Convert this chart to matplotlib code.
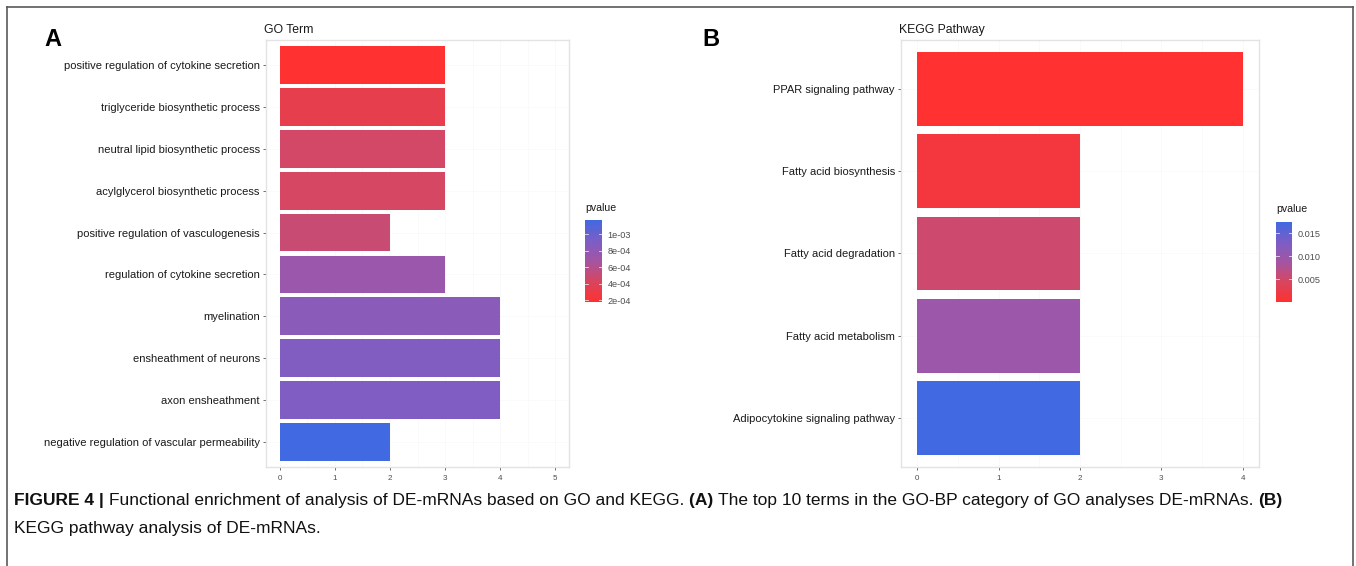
import matplotlib
matplotlib.use("Agg")
import matplotlib.pyplot as plt
from matplotlib.colors import LinearSegmentedColormap, Normalize
from matplotlib.lines import Line2D
import numpy as np

# ---------------- data ----------------
go_terms = [
    "positive regulation of cytokine secretion",
    "triglyceride biosynthetic process",
    "neutral lipid biosynthetic process",
    "acylglycerol biosynthetic process",
    "positive regulation of vasculogenesis",
    "regulation of cytokine secretion",
    "myelination",
    "ensheathment of neurons",
    "axon ensheathment",
    "negative regulation of vascular permeability",
]
go_counts = [3, 3, 3, 3, 2, 3, 4, 4, 4, 2]
go_pvalues = [1.76e-4, 3.3e-4, 4.5e-4, 4.4e-4, 5.0e-4, 7.3e-4, 8.3e-4, 8.9e-4, 9.0e-4, 1.174e-3]
go_cbar_ticks = [2e-4, 4e-4, 6e-4, 8e-4, 1e-3]
go_cbar_labels = ["2e-04", "4e-04", "6e-04", "8e-04", "1e-03"]
go_xticks = [0, 1, 2, 3, 4, 5]

kegg_terms = [
    "PPAR signaling pathway",
    "Fatty acid biosynthesis",
    "Fatty acid degradation",
    "Fatty acid metabolism",
    "Adipocytokine signaling pathway",
]
kegg_counts = [4, 2, 2, 2, 2]
kegg_pvalues = [6e-5, 1.3e-3, 5.3e-3, 9.6e-3, 1.74e-2]
kegg_cbar_ticks = [0.005, 0.010, 0.015]
kegg_cbar_labels = ["0.005", "0.010", "0.015"]
kegg_xticks = [0, 1, 2, 3, 4]

caption_line1 = [
    ("FIGURE 4 | ", "bold"),
    ("Functional enrichment of analysis of DE-mRNAs based on GO and KEGG. ", "normal"),
    ("(A) ", "bold"),
    ("The top 10 terms in the GO-BP category of GO analyses DE-mRNAs. ", "normal"),
    ("(B)", "bold"),
]
caption_line2 = "KEGG pathway analysis of DE-mRNAs."

# ---------------- style ----------------
plt.rcParams['font.family'] = ['Liberation Sans', 'DejaVu Sans']
W, H = 1356, 566
fig = plt.figure(figsize=(W / 100, H / 100), dpi=100)

cmap = LinearSegmentedColormap.from_list(
    "rb", [(0.0, "#FF3131"), (0.25, "#D84660"), (0.5, "#A455A3"),
           (0.75, "#7C5EC6"), (1.0, "#4169E1")])


def px_axes(x0, y0, x1, y1):
    return fig.add_axes([x0 / W, 1 - y1 / H, (x1 - x0) / W, (y1 - y0) / H])


def enrich_panel(ax, terms, counts, pvals, xmax, xticks, title):
    n = len(terms)
    ypos = np.arange(n)[::-1]
    norm = Normalize(vmin=min(pvals), vmax=max(pvals))
    ax.barh(ypos, counts, height=0.9, color=[cmap(norm(p)) for p in pvals],
            edgecolor="none", zorder=3)
    ax.set_xlim(-0.05 * xmax, xmax * 1.05)
    ax.set_ylim(-0.6, n - 0.4)
    ax.set_yticks(ypos)
    ax.set_yticklabels(terms, fontsize=8.0, color="#1a1a1a")
    ax.set_xticks(xticks)
    ax.set_xticklabels([str(t) for t in xticks], fontsize=5.8, color="#4d4d4d")
    ax.tick_params(axis="both", length=2.5, width=0.6, color="#555555", pad=2)
    ax.tick_params(axis="x", pad=3)
    for s in ax.spines.values():
        s.set_color("#E3E3E3")
        s.set_linewidth(1.0)
    ax.set_xticks(np.arange(0, xmax + 0.01, 0.5), minor=True)
    ax.tick_params(axis="x", which="minor", length=0)
    ax.grid(True, axis="x", which="both", color="#F8F8F8", linewidth=0.5, zorder=0)
    ax.grid(True, axis="y", color="#F8F8F8", linewidth=0.5, zorder=0)
    ax.set_axisbelow(True)
    ax.set_title(title, loc="left", fontsize=8.8, color="#1a1a1a", pad=5, x=-0.005)
    return norm


def colorbar(x0, y0, x1, y1, norm, ticks, labels, title_y):
    cax = px_axes(x0, y0, x1, y1)
    grad = np.linspace(norm.vmin, norm.vmax, 256).reshape(-1, 1)
    cax.imshow(grad, aspect="auto", cmap=cmap, norm=norm, origin="lower",
               extent=[0, 1, norm.vmin, norm.vmax])
    cax.set_xticks([])
    cax.yaxis.tick_right()
    cax.set_yticks(ticks)
    cax.set_yticklabels(labels, fontsize=6.6, color="#4d4d4d")
    cax.tick_params(axis="y", length=0, pad=4)
    for t in ticks:
        cax.plot([0, 0.2], [t, t], color="white", lw=0.6, alpha=0.8)
        cax.plot([0.8, 1], [t, t], color="white", lw=0.6, alpha=0.8)
    cax.set_xlim(0, 1)
    cax.set_ylim(norm.vmin, norm.vmax)
    for s in cax.spines.values():
        s.set_visible(False)
    fig.text(x0 / W, 1 - title_y / H, "pvalue", fontsize=7.6, color="#1a1a1a",
             ha="left", va="center")


# Panel A
axA = px_axes(266, 40, 569, 467)
normA = enrich_panel(axA, go_terms, go_counts, go_pvalues, 5, go_xticks, "GO Term")
colorbar(585, 220, 602, 302, normA, go_cbar_ticks, go_cbar_labels, 208)

# Panel B
axB = px_axes(901, 40, 1259, 467)
normB = enrich_panel(axB, kegg_terms, kegg_counts, kegg_pvalues, 4, kegg_xticks, "KEGG Pathway")
colorbar(1276, 222, 1292, 302, normB, kegg_cbar_ticks, kegg_cbar_labels, 209)

# Panel letters
fig.text(44 / W, 1 - 40 / H, "A", fontsize=17, fontweight="bold", va="center", ha="left")
fig.text(702 / W, 1 - 40 / H, "B", fontsize=17, fontweight="bold", va="center", ha="left")

# Frame lines
fc = "#5a5a5a"
fig.add_artist(Line2D([7 / W, 7 / W], [0, 1 - 7 / H], color=fc, lw=1.2))
fig.add_artist(Line2D([7 / W, 1353 / W], [1 - 7 / H, 1 - 7 / H], color=fc, lw=1.2))
fig.add_artist(Line2D([1353 / W, 1353 / W], [0, 1 - 7 / H], color=fc, lw=1.2))

# Caption
fig.canvas.draw()
renderer = fig.canvas.get_renderer()
x = 14
cap_size = 12.55
for txt, wt in caption_line1:
    t = fig.text(x / W, 1 - 500 / H, txt, fontsize=cap_size, fontweight=wt,
                 va="center", ha="left", color="#111111")
    bb = t.get_window_extent(renderer)
    x += bb.width
fig.text(14 / W, 1 - 528 / H, caption_line2, fontsize=cap_size, va="center",
         ha="left", color="#111111")

fig.savefig("out.png", dpi=100)
